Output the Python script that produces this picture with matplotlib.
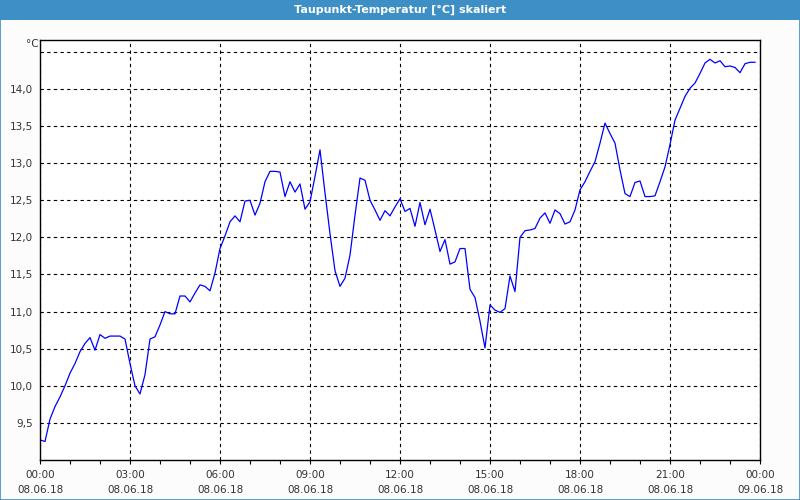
#Taupunkt-Temperatur eines Tages, Werte alle 10 Minuten
import numpy as np
import pandas as pd
import matplotlib
matplotlib.use('Agg')
import matplotlib.pyplot as plt
import matplotlib.dates as mdates
from matplotlib.patches import Rectangle
from matplotlib.ticker import FuncFormatter

#Daten
start = '2018-06-08 00:00'
taupunkt = [9.27, 9.25, 9.55, 9.72, 9.85, 10.00, 10.17, 10.30, 10.46, 10.57,
            10.65, 10.48, 10.69, 10.64, 10.67, 10.67, 10.67, 10.63, 10.30, 10.00,
            9.89, 10.15, 10.63, 10.66, 10.82, 11.00, 10.97, 10.97, 11.21, 11.21,
            11.13, 11.25, 11.36, 11.34, 11.28, 11.52, 11.85, 12.02, 12.21, 12.29,
            12.21, 12.49, 12.50, 12.30, 12.46, 12.75, 12.89, 12.89, 12.88, 12.55,
            12.75, 12.61, 12.72, 12.38, 12.48, 12.82, 13.18, 12.60, 12.05, 11.55,
            11.34, 11.45, 11.76, 12.30, 12.80, 12.77, 12.50, 12.37, 12.23, 12.36,
            12.29, 12.41, 12.52, 12.35, 12.39, 12.15, 12.47, 12.17, 12.38, 12.10,
            11.81, 11.97, 11.64, 11.67, 11.85, 11.85, 11.30, 11.19, 10.87, 10.51,
            11.09, 11.02, 10.99, 11.04, 11.48, 11.27, 12.00, 12.09, 12.10, 12.12,
            12.26, 12.33, 12.19, 12.37, 12.32, 12.18, 12.21, 12.37, 12.64, 12.75,
            12.89, 13.02, 13.27, 13.54, 13.40, 13.27, 12.91, 12.59, 12.55, 12.74,
            12.76, 12.55, 12.55, 12.56, 12.75, 12.95, 13.25, 13.58, 13.74, 13.90,
            14.01, 14.08, 14.21, 14.35, 14.40, 14.35, 14.38, 14.30, 14.31, 14.29,
            14.22, 14.34, 14.36, 14.36]
zeit = pd.date_range(start, periods=len(taupunkt), freq='10min')

titel = 'Taupunkt-Temperatur [°C] skaliert'
einheit = '°C'

blau = '#3d8fc6'
textfarbe = '#333333'

fig = plt.figure(figsize=(8, 5), dpi=100)
fig.patch.set_facecolor('#fbfcfb')

#Titelleiste und Rahmen
fig.patches.append(Rectangle((0, 0.96), 1, 0.04, transform=fig.transFigure,
                             facecolor=blau, edgecolor='none', zorder=0))
fig.patches.append(Rectangle((0.0006, 0.001), 0.9988, 0.998, transform=fig.transFigure,
                             facecolor='none', edgecolor=blau, lw=1.2, zorder=5))
fig.text(0.5, 0.981, titel, color='white', ha='center', va='center',
         fontsize=8, fontweight='bold')

ax = fig.add_axes([0.05, 0.08, 0.9, 0.84])
ax.set_facecolor('white')
ax.plot(zeit, taupunkt, color='#0000ff', lw=0.9)

#Achsen
ax.set_xlim(pd.Timestamp('2018-06-08 00:00'), pd.Timestamp('2018-06-09 00:00'))
ax.set_ylim(9.0, 14.66)
ax.set_yticks(np.arange(9.5, 14.51, 0.5))
#oberste Linie (14,5) ohne Beschriftung, dort steht die Einheit
ax.yaxis.set_major_formatter(FuncFormatter(
    lambda v, p: '' if v > 14.4 else ('%.1f' % v).replace('.', ',')))
ax.xaxis.set_major_locator(mdates.HourLocator(byhour=range(0, 24, 3)))
ax.xaxis.set_minor_locator(mdates.HourLocator())
ax.xaxis.set_major_formatter(mdates.DateFormatter('%H:%M\n%d.%m.%y'))

ax.tick_params(axis='y', length=0, pad=5, labelsize=7.5, labelcolor=textfarbe)
ax.tick_params(axis='x', which='both', direction='out', length=3, width=0.8,
               pad=4, labelsize=7.5, labelcolor=textfarbe)
for lab in ax.get_xticklabels():
    lab.set_linespacing(1.6)

ax.grid(True, which='major', color='black', linestyle=(0, (3, 3)), linewidth=0.8)
for s in ax.spines.values():
    s.set_color('black')
    s.set_linewidth(1.0)

fig.text(0.033, 0.912, einheit, color=textfarbe, fontsize=7.5, ha='left', va='center')

plt.savefig('out.png', dpi=100, facecolor=fig.get_facecolor())
